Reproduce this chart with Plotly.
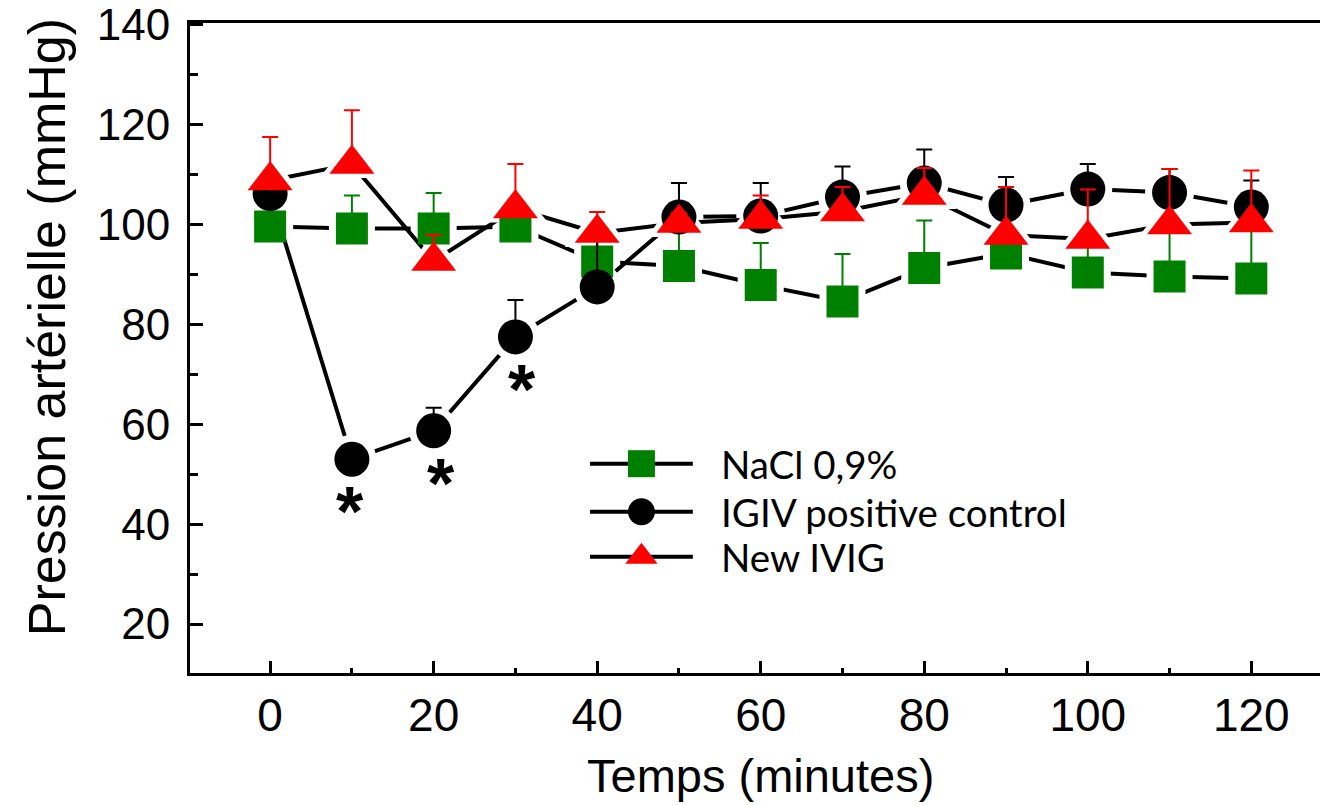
import plotly.graph_objects as go

# ---------------- data ----------------
times = [0, 10, 20, 30, 40, 50, 60, 70, 80, 90, 100, 110, 120]

nacl = [99.6, 99.2, 99.2, 99.6, 92.6, 91.7, 87.9, 84.6, 91.3, 94.2, 90.4, 89.6, 89.2]
nacl_err = [5, 6.6, 7.1, 5, 5, 9, 8.4, 9.5, 9.5, 3, 8, 10, 11]

igiv = [106.2, 53.0, 58.7, 77.5, 87.5, 101.5, 101.7, 105.5, 108.3, 103.9, 107.1, 106.4, 103.5]
igiv_err = [3, 2, 4.6, 7.4, 10, 6.8, 6.6, 6.1, 6.7, 5.6, 5.0, 4.7, 5.3]

newivig = [108.8, 112.1, 92.7, 103.2, 98.3, 100.3, 101.1, 102.6, 105.9, 97.9, 97.1, 100.0, 100.4]
newivig_err = [8.7, 10.8, 5.2, 8.9, 4.2, 2, 4.7, 4.9, 5.4, 9.6, 9.9, 11.1, 10.4]

signif_idx = [1, 2, 3]  # points of IGIV marked with *

series_names = ["NaCl 0,9%", "IGIV positive control", "New IVIG"]
x_ticks = [0, 20, 40, 60, 80, 100, 120]
y_ticks = [20, 40, 60, 80, 100, 120, 140]

# ---------------- style ----------------
GREEN = "#008000"
RED = "#FF0000"
BLACK = "#000000"
FONT = "Liberation Sans, Arial, sans-serif"

series = [
    dict(y=nacl, err=nacl_err, color=GREEN, symbol="square", size=32, halo=46),
    dict(y=igiv, err=igiv_err, color=BLACK, symbol="circle", size=35, halo=49),
    dict(y=newivig, err=newivig_err, color=RED, symbol="triangle-up", size=39, halo=56),
]

fig = go.Figure()

# connecting lines with white halo markers (gap between line and markers)
for s in series:
    fig.add_trace(go.Scatter(
        x=times, y=s["y"], mode="lines+markers",
        line=dict(color=BLACK, width=4),
        marker=dict(symbol=s["symbol"], size=s["halo"], color="white",
                    line=dict(width=0)),
        showlegend=False, hoverinfo="skip"))

# markers with error bars
for s in series:
    fig.add_trace(go.Scatter(
        x=times, y=s["y"], mode="markers",
        marker=dict(symbol=s["symbol"], size=s["size"], color=s["color"],
                    line=dict(width=0)),
        error_y=dict(type="data", array=s["err"], arrayminus=[0] * len(s["err"]),
                     symmetric=False, color=s["color"], thickness=2, width=8),
        showlegend=False))

# ---------------- custom legend (overlay axes in [0,1]) ----------------
leg_rows = [0.322, 0.248, 0.179]
leg_x0, leg_x1, leg_xm = 0.354, 0.445, 0.3995
leg_sizes = [27, 27, 28]
for s, yy, ms, name in zip(series, leg_rows, leg_sizes, series_names):
    fig.add_trace(go.Scatter(
        x=[leg_x0, leg_x1], y=[yy, yy], mode="lines",
        line=dict(color=BLACK, width=4), xaxis="x2", yaxis="y2",
        showlegend=False, hoverinfo="skip"))
    fig.add_trace(go.Scatter(
        x=[leg_xm], y=[yy], mode="markers",
        marker=dict(symbol=s["symbol"], size=ms, color=s["color"], line=dict(width=0)),
        xaxis="x2", yaxis="y2", showlegend=False, hoverinfo="skip"))
    fig.add_annotation(x=0.468, y=yy, xref="x2", yref="y2", text=name,
                       showarrow=False, xanchor="left", yanchor="middle",
                       font=dict(family="Lato, Carlito, sans-serif", size=38.5, color=BLACK))

# significance asterisks
ast_xshift = [-2, 7, 7]
for i, xs in zip(signif_idx, ast_xshift):
    fig.add_annotation(x=times[i], y=igiv[i], xref="x", yref="y", text="<b>*</b>",
                       showarrow=False, yshift=-53, xshift=xs,
                       font=dict(family=FONT, size=70, color=BLACK))

# axis titles
fig.add_annotation(x=-0.1265, y=0.532, xref="paper", yref="paper",
                   xanchor="center", yanchor="middle",
                   text="Pression artérielle (mmHg)", textangle=-90, showarrow=False,
                   font=dict(family=FONT, size=52, color=BLACK))
fig.add_annotation(x=0.505, y=-0.157, xref="paper", yref="paper",
                   xanchor="center", yanchor="middle",
                   text="Temps (minutes)", showarrow=False,
                   font=dict(family=FONT, size=47, color=BLACK))

fig.update_layout(
    width=1320, height=805,
    margin=dict(l=190, r=0, t=23, b=132),
    paper_bgcolor="white", plot_bgcolor="white",
    font=dict(family=FONT, color=BLACK),
    xaxis=dict(range=[-9.8, 128.4], tickvals=x_ticks, ticks="inside", ticklen=12,
               tickwidth=3, tickcolor=BLACK, showline=True, linewidth=3, linecolor=BLACK,
               mirror=True, showgrid=False, zeroline=False,
               tickfont=dict(family=FONT, size=46, color=BLACK),
               minor=dict(dtick=10, tick0=0, ticks="inside", ticklen=5, tickwidth=3,
                          tickcolor=BLACK, showgrid=False)),
    yaxis=dict(range=[10.2, 140.35], tickvals=y_ticks, ticks="inside", ticklen=13,
               tickwidth=3, tickcolor=BLACK, showline=True, linewidth=3, linecolor=BLACK,
               mirror=False, showgrid=False, zeroline=False, ticklabelstandoff=8,
               ticklabeloverflow="allow",
               tickfont=dict(family=FONT, size=44, color=BLACK),
               minor=dict(dtick=10, tick0=0, ticks="inside", ticklen=8, tickwidth=3,
                          tickcolor=BLACK, showgrid=False)),
    xaxis2=dict(overlaying="x", range=[0, 1], visible=False),
    yaxis2=dict(overlaying="y", range=[0, 1], visible=False),
    showlegend=False,
)

fig.write_html("out.html")
